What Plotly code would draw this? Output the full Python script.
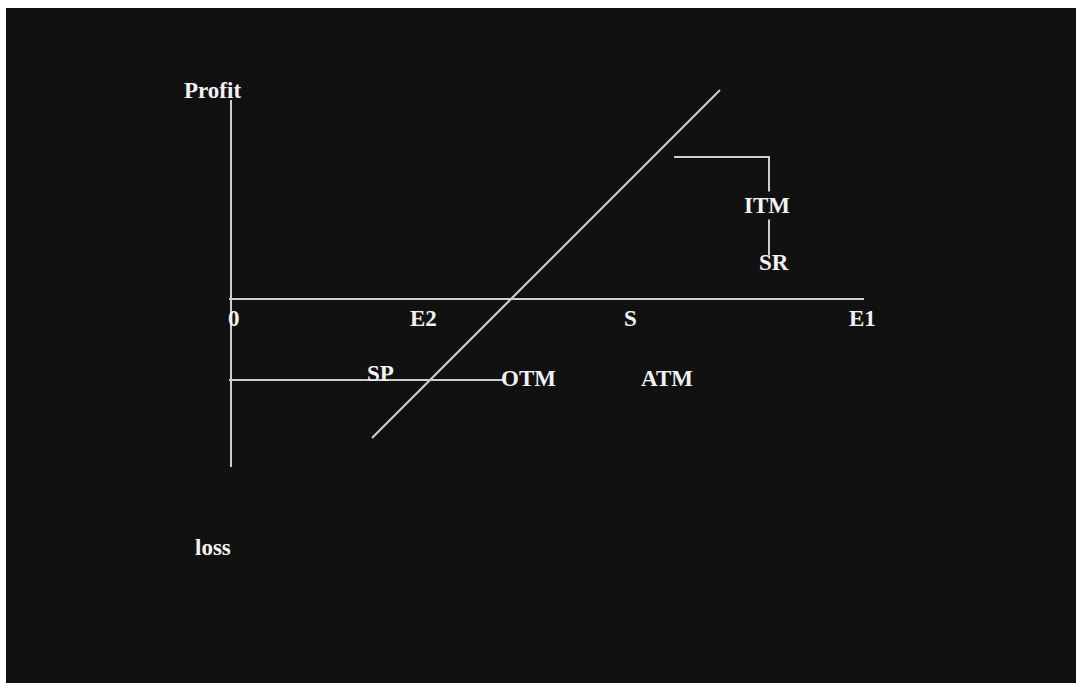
import plotly.graph_objects as go

# Diagram coordinates (price units on x, profit/loss units on y)
vaxis_x = [0, 0]
vaxis_y = [19.9, -16.8]
haxis_x = [-0.2, 63.3]
haxis_y = [0, 0]
payoff_x = [14.1, 48.9]
payoff_y = [-13.9, 20.9]
sp_x = [-0.2, 27.4]
sp_y = [-8.1, -8.1]
sr_x = [44.3, 53.8, 53.8]
sr_y = [14.2, 14.2, 4.4]

labels = ["Profit", "0", "E2", "S", "E1", "SP", "OTM", "ATM", "ITM", "SR", "loss"]
label_x = [-1.9, 0.25, 19.2, 39.9, 63.1, 14.9, 29.7, 43.6, 53.6, 54.3, -1.8]
label_y = [20.9, -1.9, -1.9, -1.9, -1.9, -7.4, -7.9, -7.9, 9.4, 3.7, -24.8]

line_col = "#cfcfcf"
text_col = "#f2f2f2"
bg = "#111111"

fig = go.Figure()
for xs, ys in [(vaxis_x, vaxis_y), (haxis_x, haxis_y), (payoff_x, payoff_y),
               (sp_x, sp_y), (sr_x, sr_y)]:
    fig.add_trace(go.Scatter(x=xs, y=ys, mode="lines",
                             line=dict(color=line_col, width=2),
                             hoverinfo="skip", showlegend=False))

for t, x, y in zip(labels, label_x, label_y):
    fig.add_annotation(x=x, y=y, text="<b>%s</b>" % t, showarrow=False,
                       font=dict(family="Liberation Serif", size=23, color=text_col),
                       bgcolor=bg if t == "ITM" else None,
                       xanchor="center", yanchor="middle")

fig.update_layout(
    width=1076, height=683,
    margin=dict(l=6, r=0, t=8, b=0),
    paper_bgcolor="#ffffff",
    plot_bgcolor=bg,
    xaxis=dict(range=[-22.5, 84.5], visible=False, fixedrange=True),
    yaxis=dict(range=[-38.4, 29.1], visible=False, fixedrange=True),
)

fig.write_html("out.html",
               config={"displayModeBar": False},
               post_script="document.body.style.margin='0';document.body.style.overflow='hidden';")
